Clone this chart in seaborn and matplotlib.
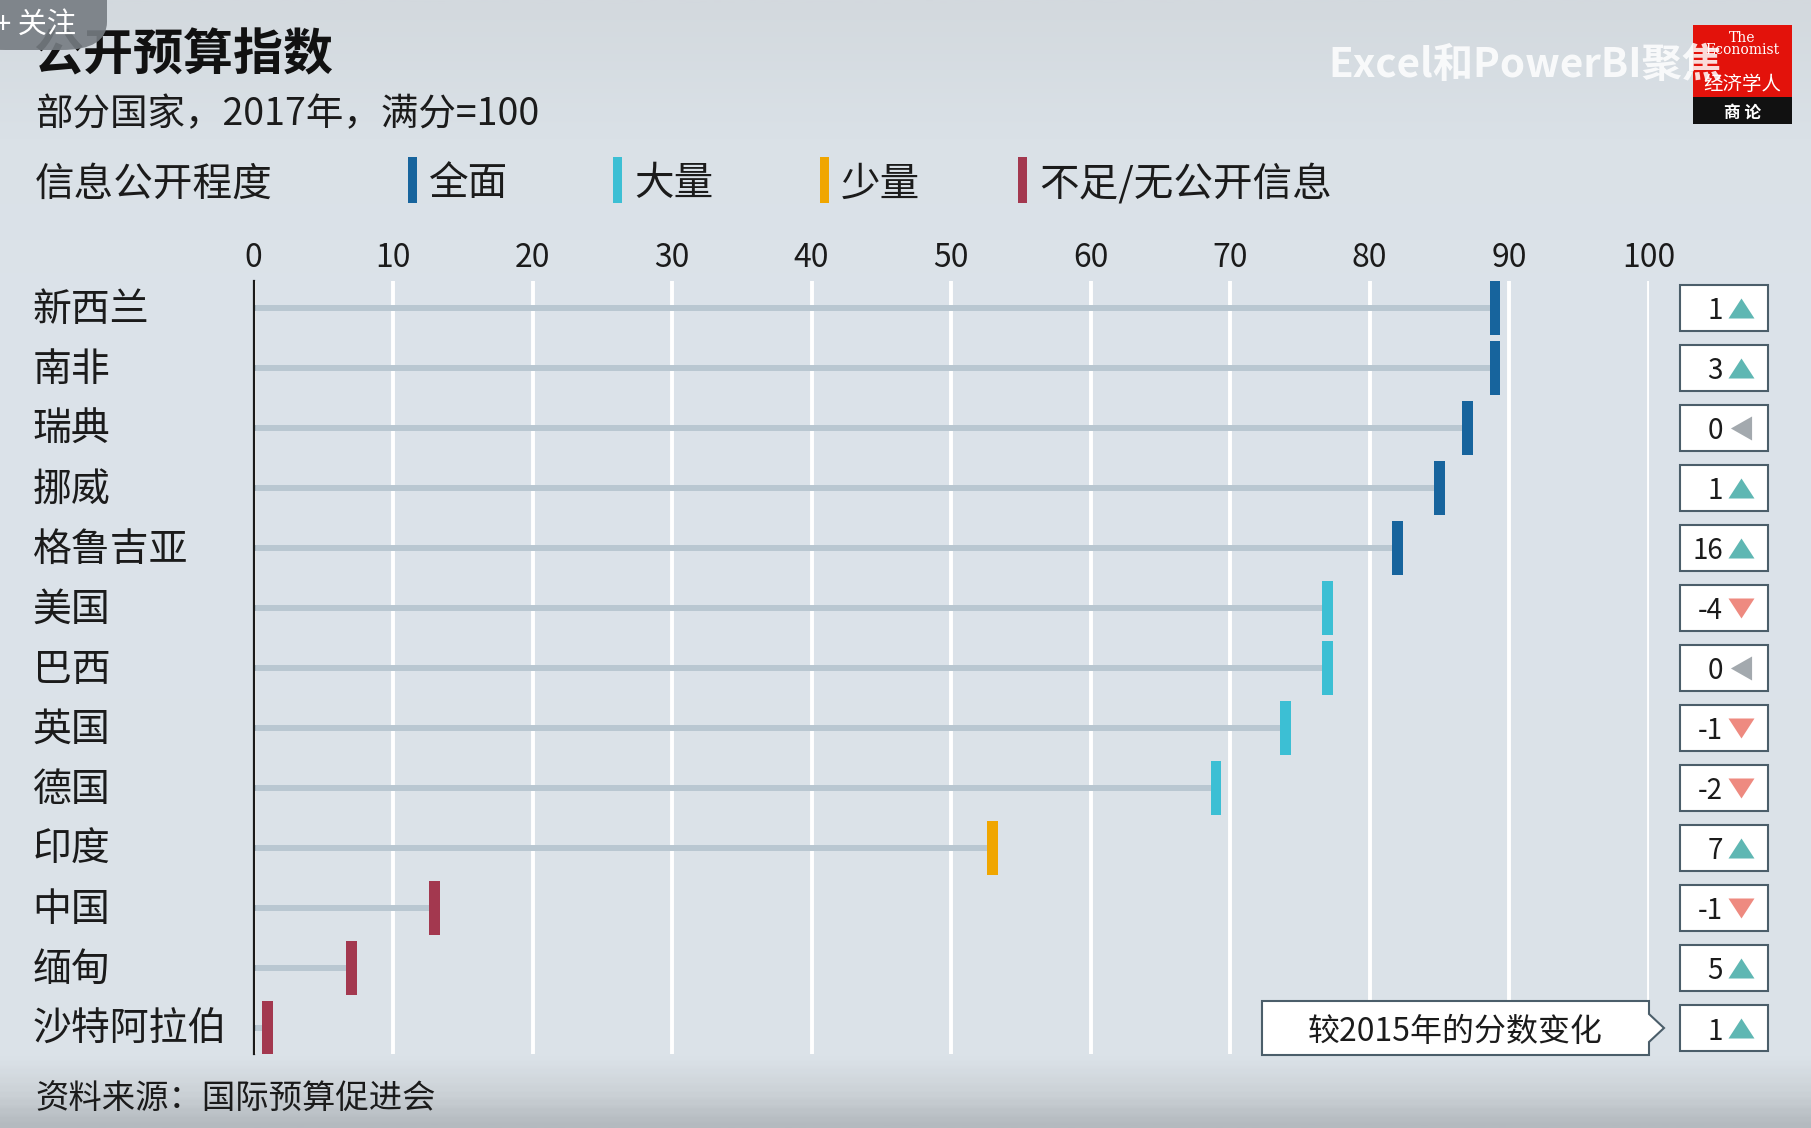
import numpy as np
import pandas as pd
import matplotlib
matplotlib.use("Agg")
import matplotlib.pyplot as plt
import matplotlib.transforms as mtransforms
from matplotlib.patches import Rectangle, Polygon, FancyBboxPatch
from matplotlib.colors import LinearSegmentedColormap
import seaborn as sns

# ---------------- data ----------------
countries = ["新西兰", "南非", "瑞典", "挪威", "格鲁吉亚", "美国", "巴西",
             "英国", "德国", "印度", "中国", "缅甸", "沙特阿拉伯"]
scores = [89, 89, 87, 85, 82, 77, 77, 74, 69, 53, 13, 7, 1]
levels = ["全面", "全面", "全面", "全面", "全面", "大量", "大量",
          "大量", "大量", "少量", "不足/无公开信息", "不足/无公开信息", "不足/无公开信息"]
changes = [1, 3, 0, 1, 16, -4, 0, -1, -2, 7, -1, 5, 1]
level_order = ["全面", "大量", "少量", "不足/无公开信息"]
x_ticks = [0, 10, 20, 30, 40, 50, 60, 70, 80, 90, 100]

title = "公开预算指数"
subtitle = "部分国家，2017年，满分=100"
legend_title = "信息公开程度"
callout = "较2015年的分数变化"
source = "资料来源：国际预算促进会"

# ---------------- style ----------------
level_colors = {"全面": "#17649d", "大量": "#3cbfd4",
                "少量": "#f0a600", "不足/无公开信息": "#a3384f"}
stem_color = "#b9c7d1"
up_color, down_color, zero_color = "#5fb7b3", "#ee8a80", "#a3a9ae"
box_edge = "#4b5e6a"
text_color = "#1b1b1b"

sns.set_theme(style="white")
plt.rcParams["font.family"] = ["Noto Sans CJK SC", "DejaVu Sans"]

W, H = 1811, 1128
fig = plt.figure(figsize=(W / 100, H / 100), dpi=100)
fig.patch.set_facecolor("#dce3ea")

def fx(px):
    return px / W

def fy(py):
    return 1 - py / H

# background gradient
bg = fig.add_axes([0, 0, 1, 1], zorder=-10)
cmap = LinearSegmentedColormap.from_list(
    "bg", [(0.0, "#d3d9de"), (0.12, "#dae1e7"), (0.3, "#dce3ea"),
           (0.94, "#dbe2e8"), (0.97, "#cdd3d8"), (1.0, "#b4babf")])
grad = np.linspace(0, 1, 400).reshape(-1, 1)
bg.imshow(grad, aspect="auto", cmap=cmap, extent=[0, 1, 0, 1], origin="upper")
bg.set_axis_off()

df = pd.DataFrame({"country": countries, "score": scores,
                   "level": levels, "change": changes})

# main axes: x 0 at px 253.5, 100 at px 1648.5 ; rows at y 308 + 60 i
y_top_lim, y_bot_lim = -0.45, 12.43
ax_top_px = 308 + y_top_lim * 60
ax_bot_px = 308 + y_bot_lim * 60
ax = fig.add_axes([fx(253.5), fy(ax_bot_px), fx(1648.5) - fx(253.5),
                   (ax_bot_px - ax_top_px) / H])
ax.set_facecolor("none")

# stems
sns.barplot(data=df, x="score", y="country", orient="h", width=0.1,
            color=stem_color, saturation=1, linewidth=0, ax=ax, zorder=2)

# score markers (thin vertical bars)
rect_marker = [(-0.1, -0.5), (0.1, -0.5), (0.1, 0.5), (-0.1, 0.5)]
sns.scatterplot(data=df, x="score", y="country", hue="level",
                hue_order=level_order, palette=level_colors,
                marker=rect_marker, s=1513, linewidth=0, legend=False,
                ax=ax, zorder=4)

ax.set_xlim(0, 100)
ax.set_ylim(y_bot_lim, y_top_lim)
ax.set_xticks(x_ticks)
ax.set_xticklabels([str(t) for t in x_ticks])
ax.xaxis.tick_top()
ax.tick_params(axis="x", length=0, pad=5, labelsize=23, labelcolor=text_color)
ax.tick_params(axis="y", length=0, pad=159, labelsize=28, labelcolor=text_color)
shift_up = mtransforms.ScaledTranslation(0, 1.7 / 72, fig.dpi_scale_trans)
for lab in ax.get_yticklabels():
    lab.set_horizontalalignment("left")
    lab.set_transform(lab.get_transform() + shift_up)
ax.set_xlabel("")
ax.set_ylabel("")
ax.grid(axis="x", color="white", linewidth=2.8, zorder=0)
ax.grid(axis="y", visible=False)
ax.set_axisbelow(True)
for s in ["top", "right", "bottom"]:
    ax.spines[s].set_visible(False)
ax.spines["left"].set_color("#1a1a1a")
ax.spines["left"].set_linewidth(1.6)
ax.spines["left"].set_zorder(3)

# change boxes on the right (figure x, data y)
blend = mtransforms.blended_transform_factory(fig.transFigure, ax.transData)
up_marker = [(-0.5, -0.385), (0.5, -0.385), (0.0, 0.385)]
down_marker = [(-0.5, 0.385), (0.5, 0.385), (0.0, -0.385)]
left_marker = [(0.44, -0.5), (0.44, 0.5), (-0.44, 0.0)]
for i, ch in enumerate(changes):
    ax.add_patch(Rectangle((fx(1680), i - 0.39), fx(1768) - fx(1680), 0.78,
                           transform=blend, facecolor="white",
                           edgecolor=box_edge, linewidth=1.5, clip_on=False,
                           zorder=5))
    ax.text(fx(1723), i, str(ch), transform=blend, ha="right",
            va="center_baseline", fontsize=20, color=text_color,
            zorder=6, clip_on=False)
    if ch > 0:
        mk, col, sz = up_marker, up_color, 350
    elif ch < 0:
        mk, col, sz = down_marker, down_color, 350
    else:
        mk, col, sz = left_marker, zero_color, 300
    ax.scatter([fx(1741)], [i], marker=mk, s=sz, color=col, linewidths=0,
               transform=blend, clip_on=False, zorder=6)

# callout box
cy = 308 + 12 * 60
x0, x1, tip = 1262, 1649, 1664
yt, yb = cy - 27, cy + 27
poly = [(x0, yt), (x1, yt), (x1, cy - 14), (tip, cy), (x1, cy + 14),
        (x1, yb), (x0, yb)]
fig.patches.append(Polygon([(fx(a), fy(b)) for a, b in poly], closed=True,
                           transform=fig.transFigure, facecolor="white",
                           edgecolor=box_edge, linewidth=1.5, zorder=5))
fig.text(fx((x0 + x1) / 2), fy(cy), callout, ha="center",
         va="center_baseline", fontsize=23, color=text_color, zorder=6)

# header texts
fig.text(fx(33), fy(50), title, ha="left", va="center_baseline",
         fontsize=36, fontweight="bold", color="#111111")
fig.text(fx(35), fy(110), subtitle, ha="left", va="center_baseline",
         fontsize=27, color=text_color)
fig.text(fx(35), fy(180), legend_title, ha="left", va="center_baseline",
         fontsize=28.5, color=text_color)
leg_bar_x = [412, 617, 824, 1022]
for lvl, bx in zip(level_order, leg_bar_x):
    fig.patches.append(Rectangle((fx(bx - 4.5), fy(203)), 9 / W, 46 / H,
                                 transform=fig.transFigure,
                                 facecolor=level_colors[lvl], linewidth=0))
    fig.text(fx(bx + 17), fy(180), lvl, ha="left", va="center_baseline",
             fontsize=28.5, color=text_color)

# source
fig.text(fx(35), fy(1095), source, ha="left", va="center_baseline",
         fontsize=24, color=text_color)

# logo (top right)
fig.patches.append(Rectangle((fx(1693), fy(97)), 99 / W, 72 / H,
                             transform=fig.transFigure, facecolor="#e3120b",
                             linewidth=0, zorder=3))
fig.patches.append(Rectangle((fx(1693), fy(124)), 99 / W, 27 / H,
                             transform=fig.transFigure, facecolor="#111111",
                             linewidth=0, zorder=3))
fig.text(fx(1742), fy(44), "The\nEconomist", ha="center", va="center",
         fontsize=10, color="white", family="DejaVu Serif", linespacing=0.9,
         zorder=4)
fig.text(fx(1742), fy(82), "经济学人", ha="center", va="center_baseline",
         fontsize=14, color="white", zorder=4)
fig.text(fx(1742), fy(111), "商 论", ha="center", va="center_baseline",
         fontsize=12, color="white", fontweight="bold", zorder=4)

# video overlay texts
fig.text(fx(1328), fy(61), "Excel和PowerBI聚焦", ha="left",
         va="center_baseline", fontsize=29, fontweight="bold",
         color="white", alpha=0.85, zorder=7)
fig.patches.append(FancyBboxPatch((fx(-40), fy(50)), 147 / W, 90 / H,
                                  boxstyle="round,pad=0,rounding_size=0.025",
                                  transform=fig.transFigure,
                                  facecolor="#767c82", alpha=0.9,
                                  linewidth=0, zorder=8))
fig.text(fx(-5), fy(21), "+ 关注", ha="left", va="center_baseline",
         fontsize=21, color="white", zorder=9)

fig.savefig("out.png", dpi=100, facecolor=fig.get_facecolor())
